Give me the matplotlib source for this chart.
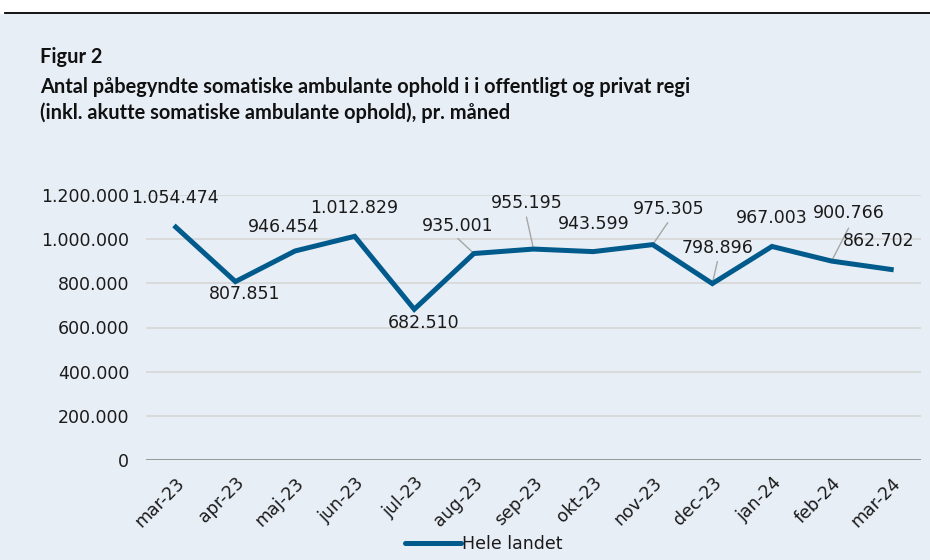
import matplotlib

matplotlib.use("Agg")
import matplotlib.pyplot as plt

# Data
months = ["mar-23", "apr-23", "maj-23", "jun-23", "jul-23", "aug-23", "sep-23",
          "okt-23", "nov-23", "dec-23", "jan-24", "feb-24", "mar-24"]
values = [1054474, 807851, 946454, 1012829, 682510, 935001, 955195,
          943599, 975305, 798896, 967003, 900766, 862702]
yticks = [0, 200000, 400000, 600000, 800000, 1000000, 1200000]

# label offsets (pixels) and leader-line starts (None = no leader)
label_offsets = [(-1, 29), (9, -12), (-11, 24), (0, 28), (9, -14), (-16, 28), (-7, 46),
                 (1, 28), (16, 36), (5, 36), (0, 28), (17, 48), (-13, 28)]
leader_starts = [None, None, None, None, None, (-16, 15), (-7, 32),
                 None, (15, 22), (5, 22), None, (17, 33), None]

BG = "#E8EEF6"
LINE = "#005A8C"


def fmt(v):
    return f"{v:,.0f}".replace(",", ".")


fig = plt.figure(figsize=(9.3, 5.6), dpi=100)
fig.patch.set_facecolor("white")

# blue panel below the black rule
fig.patches.append(plt.Rectangle((0, 0), 1, 1 - 14 / 560, transform=fig.transFigure,
                                 facecolor=BG, edgecolor="none", zorder=-10))
fig.add_artist(plt.Line2D([5 / 930, 1], [1 - 13 / 560] * 2, color="black", lw=1.3))

title_font = dict(family=["Lato", "DejaVu Sans"], fontweight="bold", fontsize=14.4, color="#111111")
fig.text(40 / 930, 1 - 57 / 560, "Figur 2", va="center", ha="left", **title_font)
fig.text(40 / 930, 1 - 87 / 560, "Antal påbegyndte somatiske ambulante ophold i i offentligt og privat regi",
         va="center", ha="left", **title_font)
fig.text(40 / 930, 1 - 113 / 560, "(inkl. akutte somatiske ambulante ophold), pr. måned",
         va="center", ha="left", **title_font)

ax = fig.add_axes([146 / 930, 1 - 460 / 560, 775 / 930, 265 / 560])
ax.patch.set_alpha(0)

x = list(range(len(months)))
ax.plot(x, values, color=LINE, lw=3.6, solid_joinstyle="miter", label="Hele landet", zorder=3)

ax.set_xlim(-0.5, len(months) - 0.5)
ax.set_ylim(0, 1200000)
ax.set_yticks(yticks)
ax.set_yticklabels([fmt(t) for t in yticks])
ax.set_xticks(x)
ax.set_xticklabels(months, rotation=45, ha="right", rotation_mode="anchor")

for s in ax.spines.values():
    s.set_visible(False)
ax.grid(axis="y", color="#D6D6D6", lw=1.2)
ax.set_axisbelow(True)
ax.axhline(0, color="#8C8C8C", lw=1.2, zorder=2)
ax.tick_params(axis="both", length=0, labelsize=12.5, colors="#1A1A1A")
ax.tick_params(axis="y", pad=12)
ax.tick_params(axis="x", pad=10)

for i, v in enumerate(values):
    dx, dy = label_offsets[i]
    ax.annotate(fmt(v), xy=(i, v), xytext=(dx, dy), textcoords="offset pixels",
                ha="center", va="center", fontsize=12.5, color="#1A1A1A", zorder=4,
                annotation_clip=False)
    if leader_starts[i] is not None:
        ax.annotate("", xy=(i, v), xytext=leader_starts[i], textcoords="offset pixels",
                    arrowprops=dict(arrowstyle="-", color="#A6A6A6", lw=1.0,
                                    shrinkA=0, shrinkB=2), zorder=2)

fig.legend(loc="center", bbox_to_anchor=(484 / 930, 1 - 544 / 560), frameon=False,
           fontsize=12.5, handlelength=3.2, handletextpad=0.1, labelcolor="#1A1A1A")
for h in fig.legends[0].get_lines():
    h.set_solid_capstyle("round")

fig.savefig("out.png", dpi=100, facecolor=fig.get_facecolor())
